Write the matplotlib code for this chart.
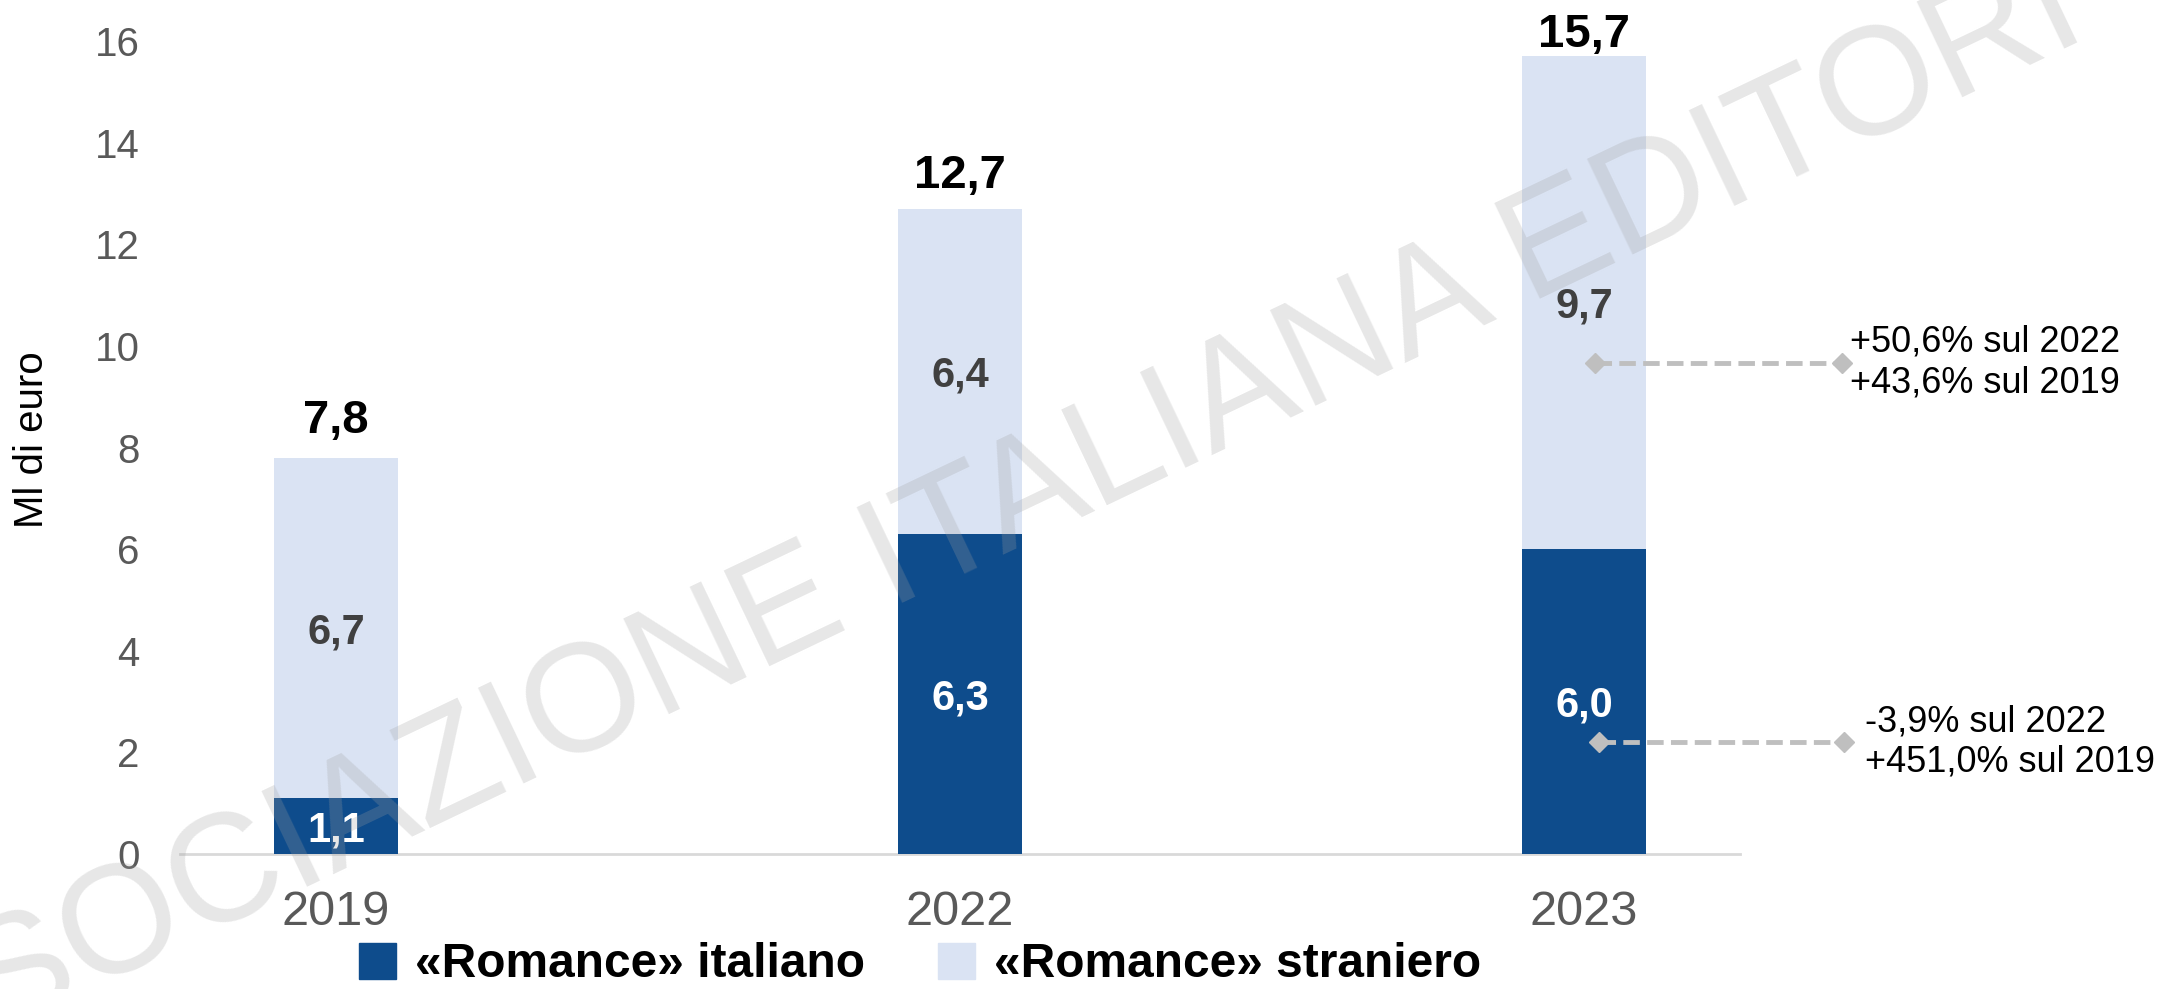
import numpy as np
import matplotlib.pyplot as plt
from matplotlib.patches import Patch

plt.rcParams['font.family'] = ['Liberation Sans', 'DejaVu Sans']

anni = ['2019', '2022', '2023']
italiano = [1.1, 6.3, 6.0]
straniero = [6.7, 6.4, 9.7]
totale = [7.8, 12.7, 15.7]
yticks = [0, 2, 4, 6, 8, 10, 12, 14, 16]
nota_straniero = ['+50,6% sul 2022', '+43,6% sul 2019']
nota_italiano = ['-3,9% sul 2022', '+451,0% sul 2019']

blu = '#0E4C8C'
azzurro = '#DAE3F3'

fig = plt.figure(figsize=(21.67, 9.89), dpi=100)
ax = fig.add_axes([0.0831, 0.1365, 0.7199, 0.822])

x = np.arange(len(anni))
w = 0.2
ax.bar(x, italiano, w, color=blu, zorder=2)
ax.bar(x, straniero, w, bottom=italiano, color=azzurro, zorder=2)

# distanza (in punti) delle etichette dei totali sopra le barre
off_tot = [18, 15, 7]

def fmt(v):
    return f'{v:.1f}'.replace('.', ',')

for i in range(len(anni)):
    ax.annotate(fmt(italiano[i]), (x[i], italiano[i] / 2),
                xytext=(0, -11), textcoords='offset points', ha='center', va='baseline',
                fontsize=30, fontweight='bold', color='white', zorder=3)
    ax.annotate(fmt(straniero[i]), (x[i], italiano[i] + straniero[i] / 2),
                xytext=(0, -11), textcoords='offset points', ha='center', va='baseline',
                fontsize=30, fontweight='bold', color='#404040', zorder=3)
    ax.annotate(fmt(totale[i]), (x[i], totale[i]),
                xytext=(0, off_tot[i]), textcoords='offset points', ha='center', va='baseline',
                fontsize=34, fontweight='bold', color='black', zorder=3)

# frecce tratteggiate con le variazioni
for xs, y, xt, testo in [((2.018, 2.413), 9.67, 2.426, nota_straniero),
                         ((2.024, 2.417), 2.2, 2.45, nota_italiano)]:
    ax.plot(xs, [y, y], color='#BFBFBF', lw=3.5, ls=(0, (3.4, 1.5)),
            marker='D', ms=10, clip_on=False, zorder=4)
    ax.text(xt, y, '\n'.join(testo), ha='left', va='center', fontsize=26,
            linespacing=1.2, color='black', clip_on=False)

ax.set_xlim(-0.25, 2.25)
ax.set_ylim(0, 16)
ax.set_yticks(yticks)
ax.set_xticks(x)
ax.set_xticklabels(anni)
ax.tick_params(axis='y', length=0, pad=29, labelsize=29, labelcolor='#595959')
ax.tick_params(axis='x', length=0, pad=26, labelsize=35, labelcolor='#595959')
for s in ['top', 'right', 'left']:
    ax.spines[s].set_visible(False)
ax.spines['bottom'].set_color('#D9D9D9')
ax.spines['bottom'].set_linewidth(2)
ax.spines['bottom'].set_zorder(1)

fig.text(0.0148, 0.555, 'Ml di euro', rotation=90, ha='center', va='center',
         fontsize=29, color='black')

handles = [Patch(color=blu), Patch(color=azzurro)]
fig.legend(handles, ['«Romance» italiano', '«Romance» straniero'], loc='center',
           bbox_to_anchor=(0.4245, 0.0243), ncol=2, frameon=False,
           prop={'size': 34.5, 'weight': 'bold'}, handlelength=0.78, handleheight=0.78,
           handletextpad=0.38, columnspacing=1.53, borderpad=0)

# filigrana
fig.text(0.43, 0.449, 'ASSOCIAZIONE ITALIANA EDITORI', rotation=25.5,
         rotation_mode='anchor', ha='center', va='center', fontsize=111,
         color='#A0A0A0', alpha=0.25, zorder=10)

fig.savefig('out.png', dpi=100)
